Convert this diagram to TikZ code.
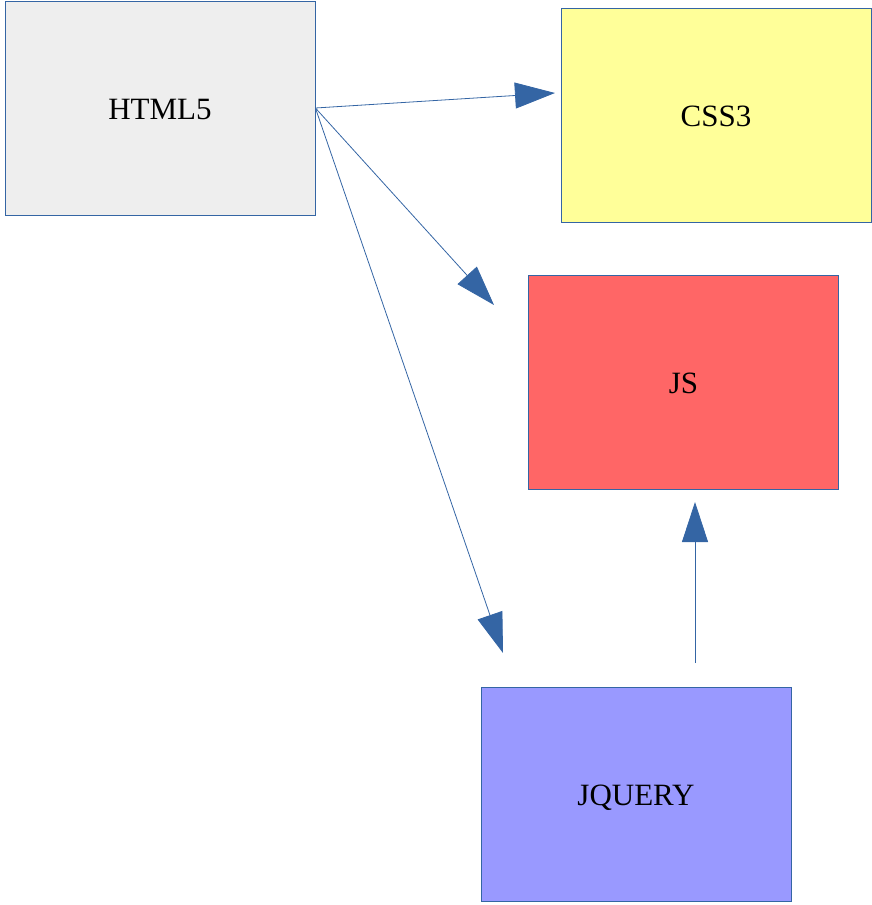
\documentclass[tikz,border=0pt]{standalone}
\usepackage{fontspec}
\setmainfont{Liberation Serif}
\usetikzlibrary{arrows.meta}
\definecolor{lineblue}{HTML}{3465A4}
\definecolor{htmlgray}{HTML}{EEEEEE}
\definecolor{cssyellow}{HTML}{FFFF99}
\definecolor{jsred}{HTML}{FF6666}
\definecolor{jqblue}{HTML}{9999FF}
\begin{document}
\begin{tikzpicture}[x=1pt,y=-1pt]
\tikzstyle{every node}+=[inner sep=0pt]
\tikzstyle{techbox}=[draw=lineblue, line width=0.8pt, minimum width=310pt, minimum height=214pt, text height=22pt, text depth=0pt, font=\fontsize{31}{37}\selectfont]
\tikzstyle{link}=[draw=lineblue, line width=0.8pt, -{Triangle[length=40pt,width=26pt]}]
\useasboundingbox (0,0) rectangle (872,905);
\node [techbox, fill=htmlgray] (html) at (160,108) {HTML5};
\node [techbox, fill=cssyellow] (css) at (716,115.5) {CSS3};
\node [techbox, fill=jsred] (js) at (683.5,382) {JS};
\node [techbox, fill=jqblue] (jq) at (636,794) {JQUERY};
\coordinate (csstip) at (555,93);
\coordinate (jstip) at (494,305);
\coordinate (jqtip) at (503,653);
\coordinate (jqstart) at (695,663);
\coordinate (jqup) at (695,502);
\draw [link] (html.east) -- (csstip);
\draw [link] (html.east) -- (jstip);
\draw [link] (html.east) -- (jqtip);
\draw [link] (jqstart) -- (jqup);
\end{tikzpicture}
\end{document}
